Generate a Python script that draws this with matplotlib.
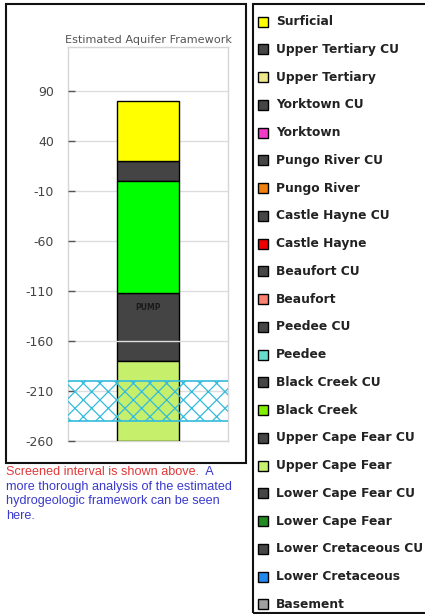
import matplotlib
matplotlib.use("Agg")
import matplotlib.pyplot as plt
from matplotlib.patches import Rectangle
from matplotlib.text import Annotation

plt.rcParams["axes.unicode_minus"] = False
plt.rcParams["hatch.linewidth"] = 0.9

# ---------------- data ----------------
layer_colors = ["#ffff00", "#444444", "#00ff00", "#444444", "#c6ef6c"]
layer_is_cu = [False, True, False, True, False]
layer_top = [80, 20, 0, -112, -180]
layer_bottom = [20, 0, -112, -180, -260]
screen_top = -200
screen_bottom = -240
pump_depth = -126
pump_label = "PUMP"
y_ticks = [90, 40, -10, -60, -110, -160, -210, -260]
y_limits = (-260, 134)
chart_title = "Estimated Aquifer Framework"

legend_labels = ["Surficial", "Upper Tertiary CU", "Upper Tertiary", "Yorktown CU",
                 "Yorktown", "Pungo River CU", "Pungo River", "Castle Hayne CU",
                 "Castle Hayne", "Beaufort CU", "Beaufort", "Peedee CU", "Peedee",
                 "Black Creek CU", "Black Creek", "Upper Cape Fear CU", "Upper Cape Fear",
                 "Lower Cape Fear CU", "Lower Cape Fear", "Lower Cretaceous CU",
                 "Lower Cretaceous", "Basement"]
legend_colors = ["#ffff00", "#464646", "#eee88c", "#464646", "#f03cc8", "#464646",
                 "#f08010", "#464646", "#ee0000", "#464646", "#fa8070", "#464646",
                 "#66ddcc", "#464646", "#80f000", "#464646", "#c8f070", "#464646",
                 "#228b22", "#464646", "#2288ee", "#a0a0a0"]

note_red = "Screened interval is shown above."
note_blue_1 = "  A"
note_blue_lines = ["more thorough analysis of the estimated",
                   "hydrogeologic framework can be seen",
                   "here."]

# ---------------- figure ----------------
W, H = 425, 614
fig = plt.figure(figsize=(W / 100, H / 100), dpi=100)
fig.patch.set_facecolor("white")


def fx(x):
    return x / W


def fy(y):
    return 1 - y / H


# outer boxes
fig.add_artist(Rectangle((fx(6), fy(462.5)), fx(246.5) - fx(6), fy(4) - fy(462.5),
                         transform=fig.transFigure, fill=False, edgecolor="#111111", lw=1.5))
fig.add_artist(Rectangle((fx(252.5), fy(612.5)), fx(440) - fx(252.5), fy(4) - fy(612.5),
                         transform=fig.transFigure, fill=False, edgecolor="#111111", lw=1.5,
                         clip_on=False))

# main axes
ax = fig.add_axes([fx(68), fy(441), (228 - 68) / W, (441 - 47) / H])
ax.set_xlim(0, 1)
ax.set_ylim(*y_limits)
for c, cu, t, b in zip(layer_colors, layer_is_cu, layer_top, layer_bottom):
    ax.bar(0.5, t - b, bottom=b, width=0.39, color=c, edgecolor="black", linewidth=1,
           zorder=2 if cu else 3.5)

# screened interval
ax.add_patch(Rectangle((0, screen_bottom), 1, screen_top - screen_bottom, facecolor="none",
                       edgecolor="#33bbdd", hatch="xx", linewidth=0, zorder=4))
ax.axhline(screen_top, color="#33bbdd", lw=1.2, zorder=4)
ax.axhline(screen_bottom, color="#33bbdd", lw=1.2, zorder=4)

ax.text(0.5, pump_depth, pump_label, ha="center", va="center", fontsize=5.5,
        fontweight="bold", color="#1a1a1a", zorder=5)

ax.set_yticks(y_ticks)
ax.set_xticks([])
ax.set_axisbelow(False)
ax.yaxis.grid(True, color="#dddddd", lw=1)
for gl in ax.get_ygridlines():
    gl.set_zorder(3)
ax.tick_params(axis="y", direction="in", length=5, width=1, color="#555555",
               labelsize=9, labelcolor="#444444", pad=10)
for s in ax.spines.values():
    s.set_color("#d6d6d6")
    s.set_linewidth(1)
ax.set_title(chart_title, fontsize=8.1, color="#555555", pad=3)

# legend axes (pixel coordinates)
lax = fig.add_axes([fx(252.5), fy(612.5), (425 - 252.5) / W, (612.5 - 4) / H])
lax.set_xlim(252.5, 425)
lax.set_ylim(612.5, 4)
lax.axis("off")
for i, (lab, col) in enumerate(zip(legend_labels, legend_colors)):
    yc = 21.5 + 27.76 * i
    lax.add_patch(Rectangle((257.5, yc - 5), 10, 10, facecolor=col, edgecolor="black", lw=1))
    lax.text(276, yc, lab, fontsize=8.8, fontweight="bold", color="#222222",
             ha="left", va="center", clip_on=False)

# note text
red = fig.text(fx(6), fy(472), note_red, color="#e03a3a", fontsize=9.1,
               family="Liberation Sans", ha="left", va="center")
fig.add_artist(Annotation(note_blue_1, xy=(1, 0), xycoords=red, va="bottom", ha="left",
                          color="#3a3acc", fontsize=9.1, family="Liberation Sans"))
for k, line in enumerate(note_blue_lines):
    fig.text(fx(6), fy(486.7 + 14.6 * k), line, color="#3a3acc", fontsize=9.1,
             family="Liberation Sans", ha="left", va="center")

fig.savefig("out.png", dpi=100)
